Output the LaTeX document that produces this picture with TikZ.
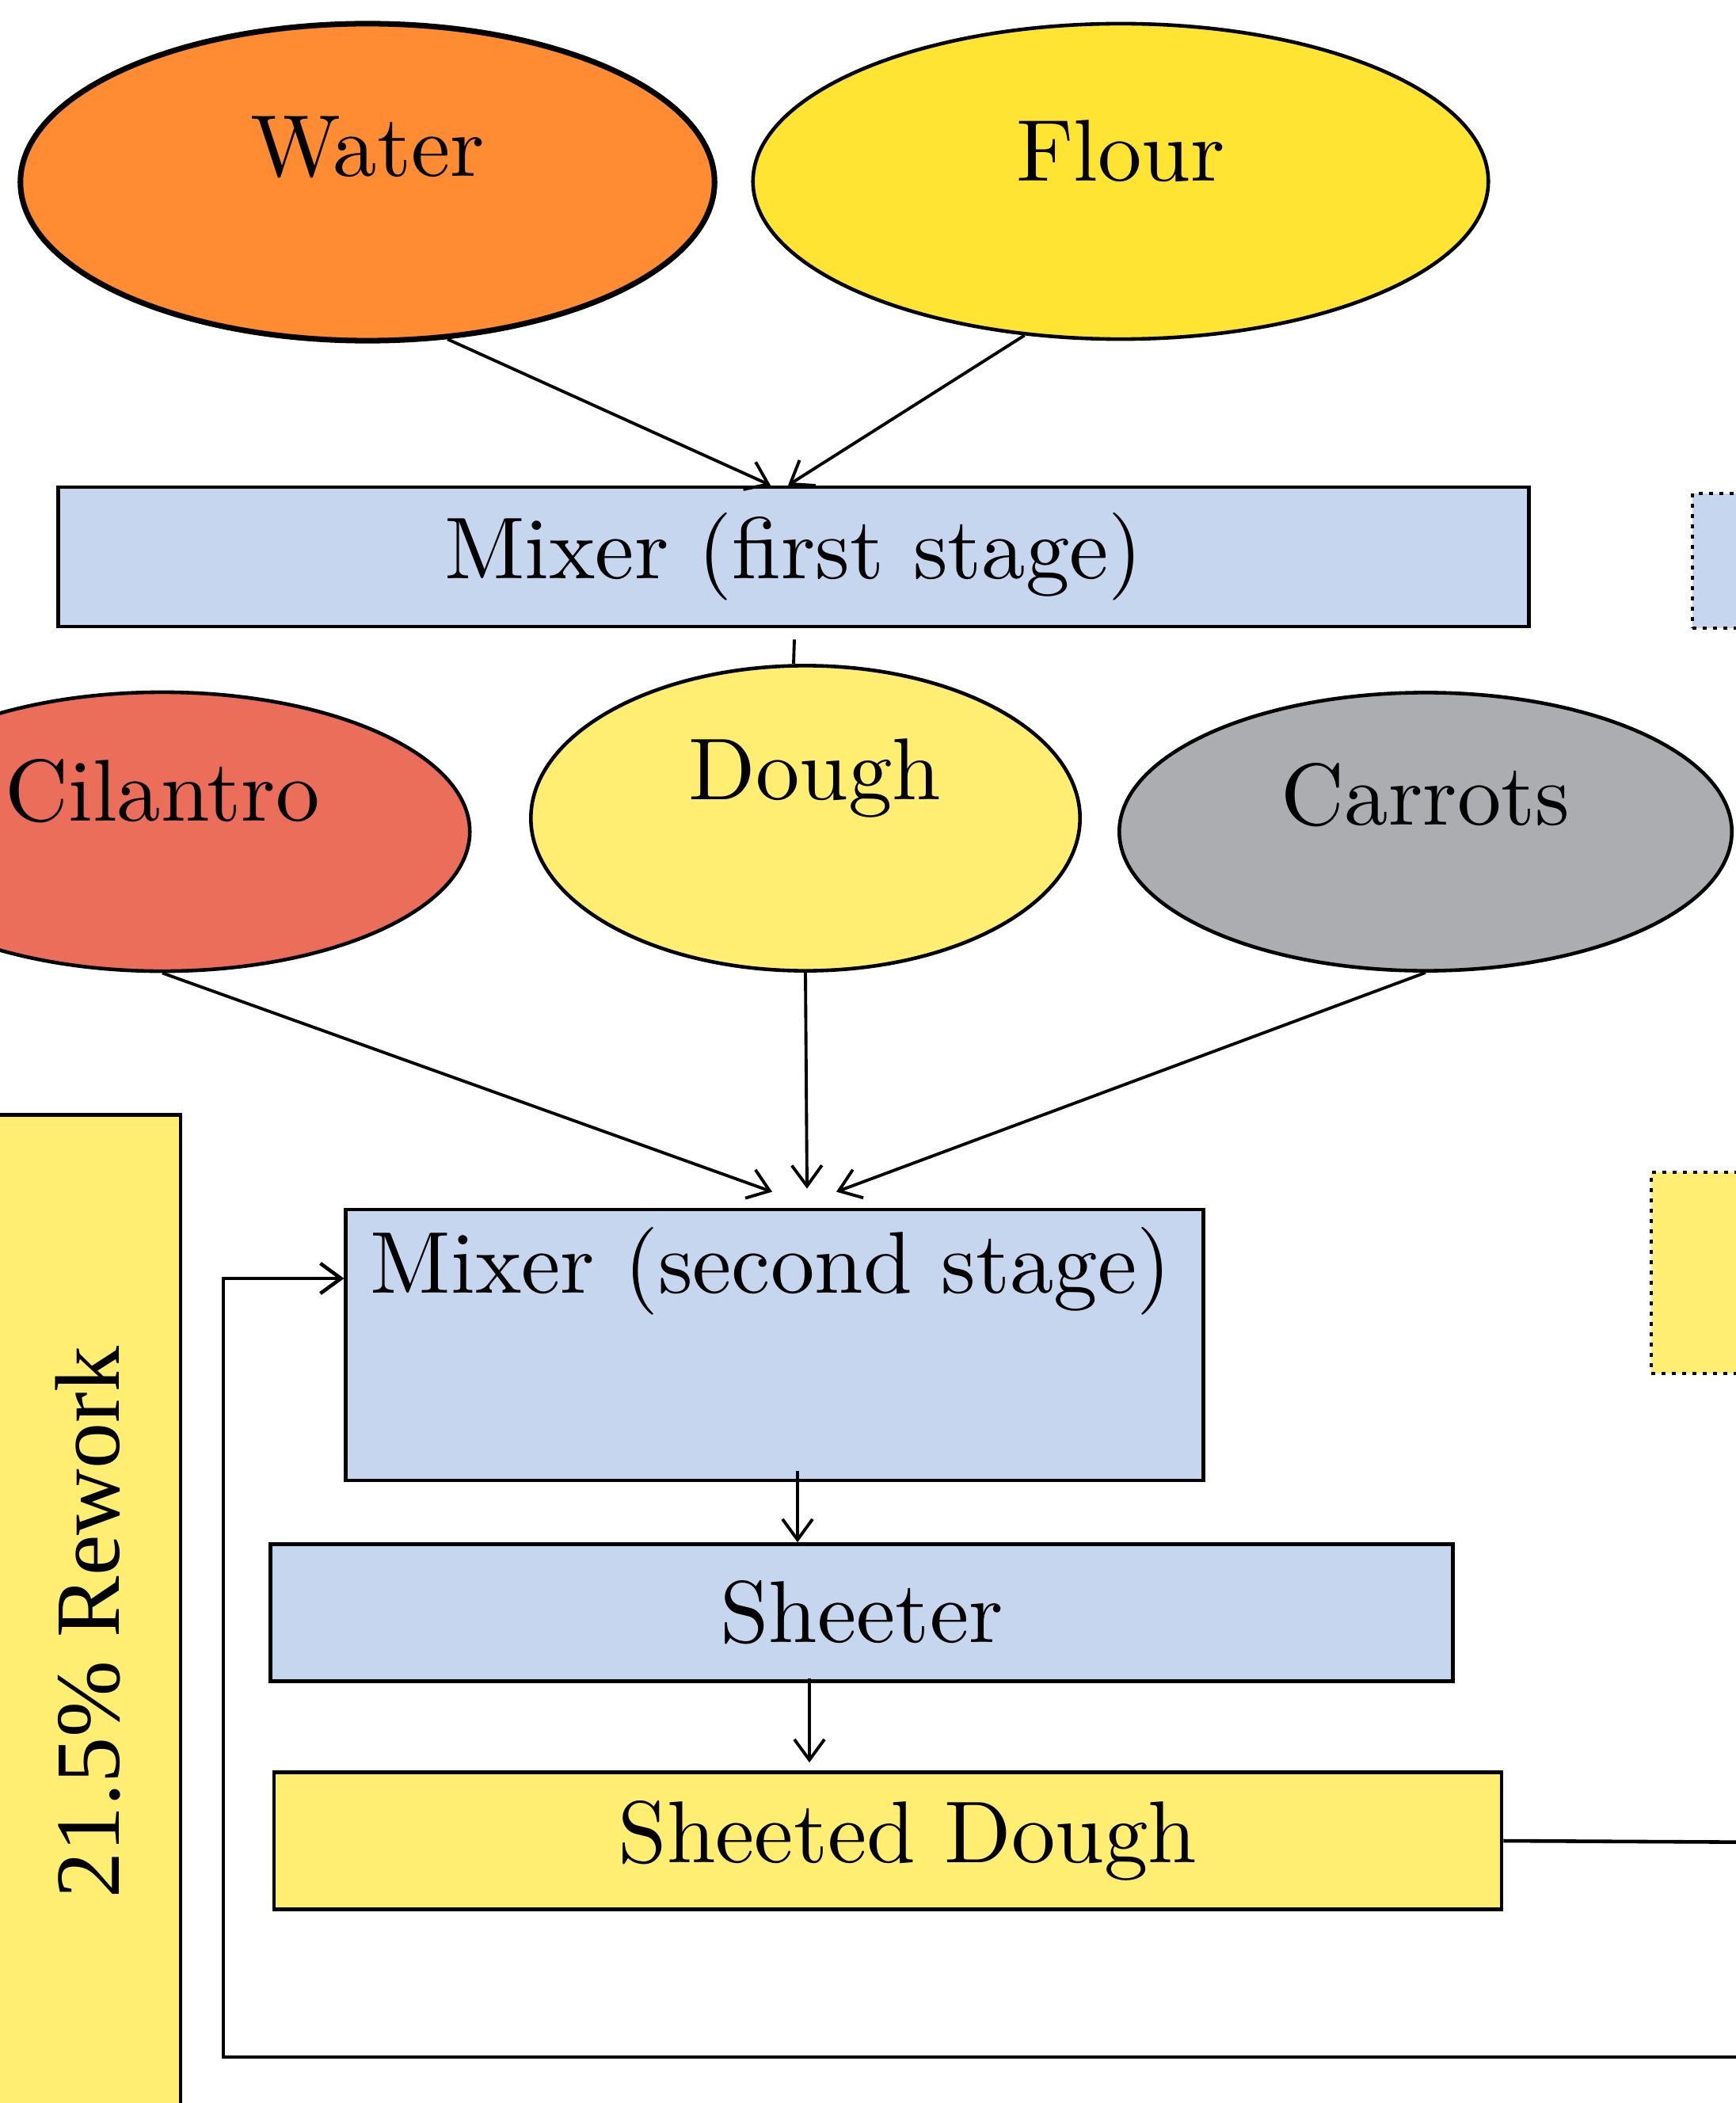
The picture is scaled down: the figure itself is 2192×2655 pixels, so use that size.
\documentclass[tikz,border=0pt]{standalone}
\usepackage{fontspec}
\setmainfont{lmroman10-regular.otf}
\newfontfamily\reworkfont{Liberation Serif}
\usetikzlibrary{arrows.meta,calc,shapes.geometric}
\definecolor{water}{HTML}{FF8B33}
\definecolor{flour}{HTML}{FFE433}
\definecolor{mixer}{HTML}{C6D6EF}
\definecolor{cilantro}{HTML}{EA6E5A}
\definecolor{dough}{HTML}{FFEE72}
\definecolor{carrot}{HTML}{ACADB0}

\begin{document}
\begin{tikzpicture}[x=0.01cm,y=-0.01cm,font=\fontsize{31.5}{36}\selectfont,
              ing/.style={ellipse,draw,line width=1.3pt,inner sep=0},
              box/.style={rectangle,draw,line width=1.3pt,inner sep=0,fill=mixer},
              lbl/.style={inner sep=0},
              dotbox/.style={rectangle,draw,line width=1.3pt,dash pattern=on 1.3pt off 2.4pt},
              ln/.style={line width=1.1pt},
              arr/.style={line width=1.1pt,-{Straight Barb[length=2.6mm,width=3.8mm]}}]
              \useasboundingbox (0,0) rectangle (2192,2655);
              % ingredients
              \node[ing,fill=water,line width=2pt,minimum width=8.76cm,minimum height=4cm,
                label={[lbl,yshift=0.44cm]center:Water}] (water) at (464,230) {};
              \node[ing,fill=flour,minimum width=9.28cm,minimum height=3.98cm,
                label={[lbl,yshift=0.38cm]center:Flour}] (flour) at (1415,229) {};
              \node[box,minimum width=18.56cm,minimum height=1.76cm] (mix1) at (1002,703) {Mixer (first stage)};
              \node[ing,fill=cilantro,minimum width=7.76cm,minimum height=3.52cm,
                label={[lbl,yshift=0.51cm]center:Cilantro}] (cil) at (205,1050) {};
              \node[ing,fill=dough,minimum width=6.93cm,minimum height=3.85cm,
                label={[lbl,yshift=0.51cm,xshift=0.12cm]center:Dough}] (dough) at (1017,1033) {};
              \node[ing,fill=carrot,minimum width=7.73cm,minimum height=3.51cm,
                label={[lbl,yshift=0.46cm]center:Carrots}] (carrot) at (1800,1050) {};
              % process
              \node[box,minimum width=10.82cm,minimum height=3.42cm,
                label={[lbl,yshift=0.93cm,xshift=-0.05cm]center:Mixer (second stage)}] (mix2) at (978,1698) {};
              \node[box,minimum width=14.92cm,minimum height=1.73cm] (sheeter) at (1088,2036) {Sheeter};
              \node[box,fill=dough,minimum width=15.49cm,minimum height=1.73cm,
                label={[lbl,xshift=0.25cm]center:Sheeted Dough}] (sheeted) at (1121,2324) {};
              \node[box,fill=dough,minimum width=2.58cm,minimum height=12.92cm,
                label={[lbl,rotate=90,xshift=0.06cm,yshift=-0.12cm,font=\reworkfont\fontsize{33}{38}\selectfont]center:21.5\% Rework}] (rework) at (99,2054) {};
              \node[dotbox,fill=mixer,minimum width=1.62cm,minimum height=1.70cm] (rbox1) at (2218,708) {};
              \node[dotbox,fill=dough,minimum width=2.14cm,minimum height=2.54cm] (rbox2) at (2192,1607) {};
              % flows
              \coordinate (m2s) at ($(mix2.south)+(29,0)$);
              \coordinate (shs) at ($(sheeter.south)+(-66,0)$);
              \coordinate (outR) at (2260,2326);
              \coordinate (outB) at (2260,2597);
              \coordinate (bend) at (282,1614);
              \draw[arr] (water.-63) -- ($(mix1.north)+(-29,0)$);
              \draw[arr] (flour.-122) -- ($(mix1.north)+(-7,0)$);
              \draw[ln] ($(mix1.south)+(1,14)$) -- (mix1.south |- dough.north);
              \draw[arr] (cil.south) -- ($(mix2.north)+(-3,-20)$);
              \draw[arr] (dough.south) -- ($(mix2.north)+(41,-24)$);
              \draw[arr] (carrot.south) -- ($(mix2.north)+(78,-20)$);
              \draw[arr] ($(m2s)+(0,-14)$) -- (m2s |- sheeter.north);
              \draw[arr] ($(shs)+(0,-6)$) -- ($(shs |- sheeted.north)+(0,-10)$);
              \draw[ln,line width=1.3pt] (sheeted.east) -- (outR);
              \draw[arr,line width=1.3pt] (outB) -| (bend) -- (bend -| mix2.west);
\end{tikzpicture}
\end{document}
